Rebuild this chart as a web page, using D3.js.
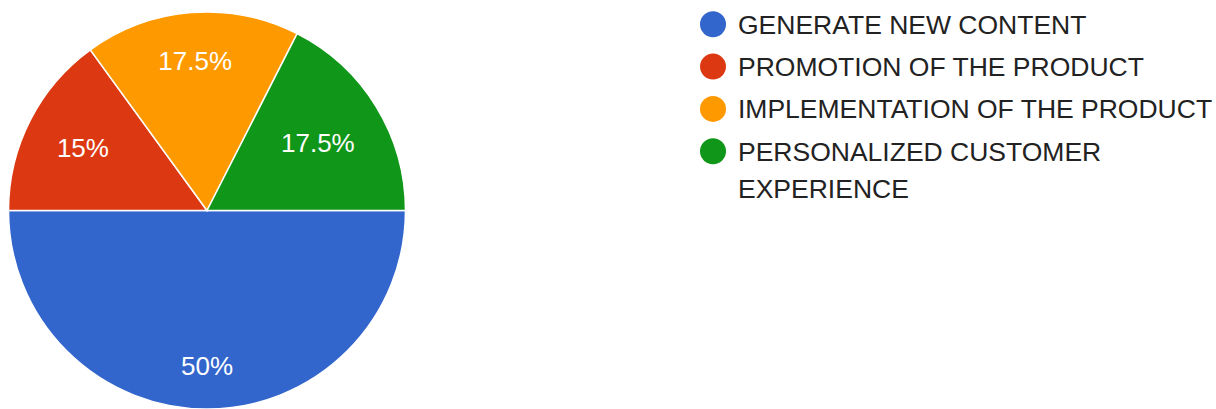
<!DOCTYPE html>
<html>
<head>
<meta charset="utf-8">
<script src="https://cdn.jsdelivr.net/npm/d3@7"></script>
<style>
  html, body { margin: 0; padding: 0; background: #fff; }
  svg { display: block; }
</style>
</head>
<body>
<div id="chart"></div>
<script>
var categories = ["GENERATE NEW CONTENT", "PROMOTION OF THE PRODUCT", "IMPLEMENTATION OF THE PRODUCT", "PERSONALIZED CUSTOMER EXPERIENCE"];
var values = [50, 15, 17.5, 17.5];
var colors = ["#3366cc", "#dc3912", "#ff9900", "#109618"];

var width = 1216, height = 409;
var cx = 207, cy = 210.5, radius = 198.5;
var font = "Arial, 'Liberation Sans', sans-serif";

var svg = d3.select("#chart")
        .append("svg")
        .attr("width", width)
        .attr("height", height);

var data = categories.map(function (c, i) {
    return { name: c, value: values[i], color: colors[i] };
});

// blue half starts at 3 o'clock and runs clockwise
var pie = d3.pie()
        .sort(null)
        .value(function (d) { return d.value; })
        .startAngle(Math.PI / 2)
        .endAngle(Math.PI / 2 + 2 * Math.PI);

var arc = d3.arc()
        .innerRadius(0)
        .outerRadius(radius);

var g = svg.append("g")
        .attr("transform", "translate(" + cx + "," + cy + ")");

var arcs = pie(data);

g.selectAll("path")
        .data(arcs)
        .enter()
        .append("path")
        .attr("d", arc)
        .attr("fill", function (d) { return d.data.color; })
        .attr("stroke", "#fff")
        .attr("stroke-width", 1.5);

// labels: push along the mid angle until the far corner of the text box hits labelR
var labelR = radius * 0.84;
var capH = 26 * 0.716;

var labels = g.selectAll("text.pct")
        .data(arcs)
        .enter()
        .append("text")
        .attr("class", "pct")
        .attr("font-family", font)
        .attr("font-size", "26px")
        .attr("fill", "#fff")
        .attr("text-anchor", "middle")
        .text(function (d) { return d.data.value + "%"; });

labels.each(function (d) {
    var t = d3.select(this);
    var hw = this.getComputedTextLength() / 2;
    var hh = capH / 2;
    var a = (d.startAngle + d.endAngle) / 2;
    var s = Math.sin(a), c = Math.cos(a);
    var b = hw * Math.abs(s) + hh * Math.abs(c);
    var dist = -b + Math.sqrt(b * b - (hw * hw + hh * hh - labelR * labelR));
    var x = dist * s, y = -dist * c;
    t.attr("x", x).attr("y", y + hh);
});

// legend
var legX = 713, legY = 24.3, legStep = 42.3, textX = 738, maxW = width - textX - 2, lineH = 37.5;
var legSize = 26.5, legCap = legSize * 0.716;

var leg = svg.append("g");
var rowY = legY;

data.forEach(function (d) {
    leg.append("circle")
            .attr("cx", legX)
            .attr("cy", rowY)
            .attr("r", 13)
            .attr("fill", d.color);

    var txt = leg.append("text")
            .attr("x", textX)
            .attr("y", rowY + legCap / 2)
            .attr("font-family", font)
            .attr("font-size", legSize + "px")
            .attr("fill", "#222");

    var words = d.name.split(" ");
    var line = [];
    var tspan = txt.append("tspan").attr("x", textX).attr("dy", 0);
    var lines = 1;
    words.forEach(function (w) {
        line.push(w);
        tspan.text(line.join(" "));
        if (tspan.node().getComputedTextLength() > maxW && line.length > 1) {
            line.pop();
            tspan.text(line.join(" "));
            line = [w];
            tspan = txt.append("tspan").attr("x", textX).attr("dy", lineH).text(w);
            lines++;
        }
    });
    rowY += legStep + (lines - 1) * lineH;
});
</script>
</body>
</html>
